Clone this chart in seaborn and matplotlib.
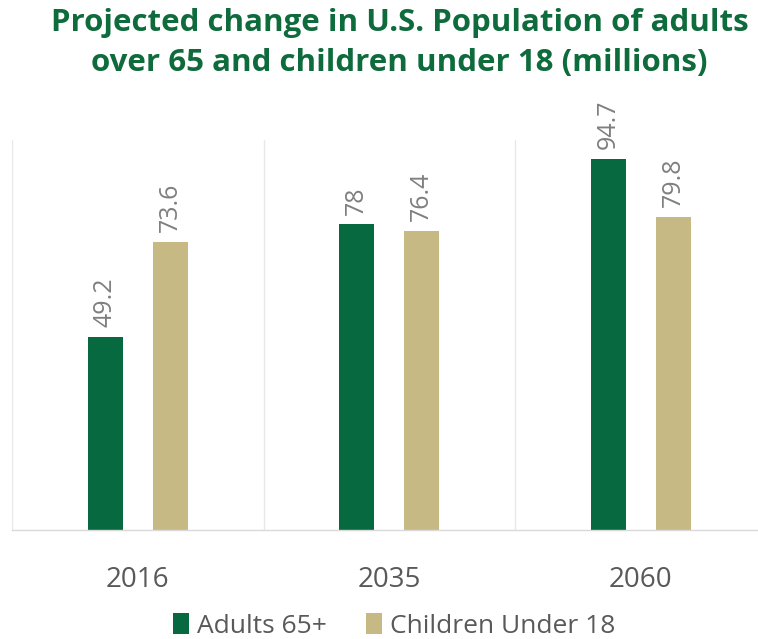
import matplotlib
matplotlib.use("Agg")
import matplotlib.pyplot as plt
import seaborn as sns
import pandas as pd
from matplotlib.patches import Patch

years = ["2016", "2035", "2060"]
series = ["Adults 65+", "Children Under 18"]
adults = [49.2, 78, 94.7]
children = [73.6, 76.4, 79.8]
labels_adults = ["49.2", "78", "94.7"]
labels_children = ["73.6", "76.4", "79.8"]
title = "Projected change in U.S. Population of adults\nover 65 and children under 18 (millions)"

colors = ["#07693F", "#C6B983"]
FONT = "Open Sans"

sns.set_theme(style="white")
plt.rcParams["font.family"] = [FONT, "DejaVu Sans"]

df = pd.DataFrame({
    "year": years * 2,
    "series": [series[0]] * 3 + [series[1]] * 3,
    "value": adults + children,
})

fig = plt.figure(figsize=(7.58, 6.39), dpi=100)
ax = fig.add_axes([12 / 758, 1 - 530 / 639, 754.5 / 758, 390 / 639])
sns.barplot(data=df, x="year", y="value", hue="series", palette=colors,
            width=0.516, ax=ax, legend=False, saturation=1)

bw = 0.139
for p in ax.patches:
    c = p.get_x() + p.get_width() / 2
    p.set_width(bw)
    p.set_x(c - bw / 2)
    p.set_edgecolor("none")

ax.set_xlim(-0.5, 2.5)
ax.set_ylim(0, 99.5)
ax.set_yticks([])
ax.set_xlabel("")
ax.set_ylabel("")
for s in ["top", "left", "right"]:
    ax.spines[s].set_visible(False)
ax.spines["bottom"].set_color("#D9D9D9")
ax.spines["bottom"].set_linewidth(1)
for xv in [-0.5, 0.5, 1.5, 2.5]:
    ax.axvline(xv, color="#E8E8E8", lw=1, zorder=0)
ax.tick_params(axis="x", length=0, pad=26, labelsize=20, labelcolor="#595959")

all_labels = [labels_adults, labels_children]
for cont, labs in zip(ax.containers, all_labels):
    ax.bar_label(cont, labels=labs, rotation=90, padding=7, fontsize=18,
                 color="#7F7F7F")

fig.text(0.527, 1 - 43 / 639, title, ha="center", va="center",
         fontsize=22.5, fontweight="bold", color="#0E6B3C", linespacing=1.4)

handles = [Patch(facecolor=c, edgecolor="none") for c in colors]
fig.legend(handles, series, loc="center", bbox_to_anchor=(0.52, 1 - 626 / 639),
           ncol=2, frameon=False, fontsize=19, labelcolor="#595959",
           handlelength=0.6, handleheight=0.85, handletextpad=0.3,
           columnspacing=1.5)

fig.savefig("out.png", dpi=100)
